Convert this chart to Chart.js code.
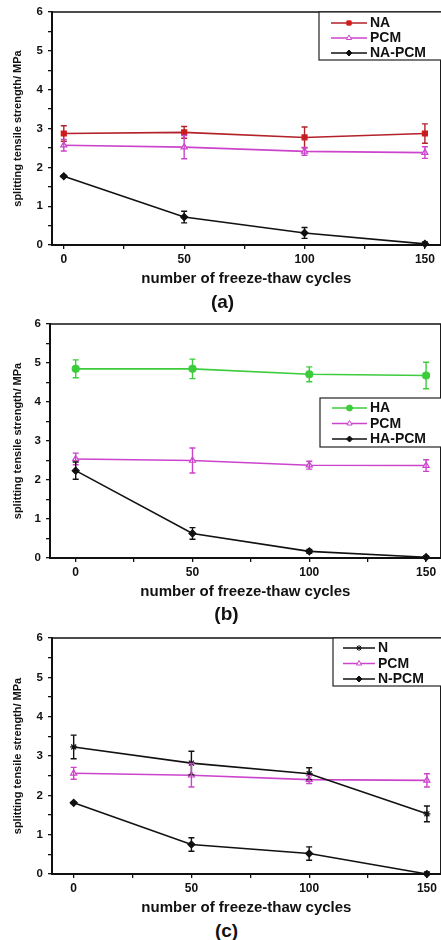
<!DOCTYPE html>
<html>
<head>
<meta charset="utf-8">
<script src="https://cdn.jsdelivr.net/npm/chart.js@4/dist/chart.umd.min.js"></script>
<style>
  html, body { margin: 0; padding: 0; background: #fff; }
  body { width: 441px; height: 940px; position: relative; overflow: hidden; }
  .panel { position: absolute; left: 0; width: 446px; }
  .tag { position: absolute; width: 441px; text-align: center; font: bold 19px 'Liberation Sans', Arial, sans-serif; color: #111; }
</style>
</head>
<body>
<div class="panel" style="top:0;height:290px"><canvas id="chart-a"></canvas></div>
<div class="panel" style="top:300px;height:303px"><canvas id="chart-b"></canvas></div>
<div class="panel" style="top:610px;height:309px"><canvas id="chart-c"></canvas></div>
<div class="tag" style="top:291px;left:2px">(a)</div>
<div class="tag" style="top:603px;left:6px">(b)</div>
<div class="tag" style="top:920px;left:6px">(c)</div>
<script>
const cycles = [0, 50, 100, 150];

// panel (a)
const naValues = [2.87, 2.90, 2.77, 2.87];
const naErrors = [0.20, 0.15, 0.27, 0.25];
const pcmValuesA = [2.57, 2.52, 2.41, 2.38];
const pcmErrorsA = [0.15, 0.30, 0.10, 0.15];
const naPcmValues = [1.77, 0.72, 0.31, 0.03];
const naPcmErrors = [0.02, 0.15, 0.14, 0.05];

// panel (b)
const haValues = [4.85, 4.85, 4.71, 4.68];
const haErrors = [0.23, 0.25, 0.19, 0.34];
const pcmValuesB = [2.54, 2.50, 2.38, 2.37];
const pcmErrorsB = [0.15, 0.32, 0.10, 0.15];
const haPcmValues = [2.24, 0.63, 0.17, 0.02];
const haPcmErrors = [0.22, 0.15, 0.05, 0.03];

// panel (c)
const nValues = [3.23, 2.82, 2.55, 1.53];
const nErrors = [0.30, 0.30, 0.15, 0.20];
const pcmValuesC = [2.56, 2.51, 2.40, 2.38];
const pcmErrorsC = [0.15, 0.30, 0.10, 0.17];
const nPcmValues = [1.81, 0.75, 0.52, 0.00];
const nPcmErrors = [0.02, 0.17, 0.17, 0.05];

const yTicks = [0, 1, 2, 3, 4, 5, 6];

const colors = {
    naLine: '#b3222a',
    naPoint: '#d41a1a',
    pcm: '#cc44cc',
    ha: '#3ccc3c',
    black: '#111111'
};

Chart.defaults.font.family = "'Liberation Sans', Arial, sans-serif";
Chart.defaults.font.weight = 'bold';
Chart.defaults.color = '#111';

const toPoints = vals => vals.map((v, i) => ({ x: cycles[i], y: v }));

function series(label, vals, errs, lineColor, pointColor, style, fill) {
    return {
        label: label,
        data: toPoints(vals),
        errors: errs,
        borderColor: lineColor,
        borderWidth: 1.6,
        pointStyle: style,
        pointRadius: 3.5,
        pointBackgroundColor: fill,
        pointBorderColor: pointColor,
        pointBorderWidth: 1.2,
        tension: 0,
        clip: false
    };
}

// vertical error bars, placed through the y scale
const errorBars = {
    id: 'errorBars',
    afterDatasetsDraw(chart) {
        const ctx = chart.ctx, ys = chart.scales.y;
        chart.data.datasets.forEach((ds, i) => {
            if (!ds.errors) return;
            const meta = chart.getDatasetMeta(i);
            ctx.save();
            ctx.strokeStyle = ds.borderColor;
            ctx.lineWidth = 1.4;
            meta.data.forEach((pt, j) => {
                const e = ds.errors[j];
                if (!e) return;
                const v = ds.data[j].y;
                const top = ys.getPixelForValue(v + e), bot = ys.getPixelForValue(Math.max(v - e, 0));
                ctx.beginPath();
                ctx.moveTo(pt.x, top); ctx.lineTo(pt.x, bot);
                ctx.moveTo(pt.x - 3, top); ctx.lineTo(pt.x + 3, top);
                ctx.moveTo(pt.x - 3, bot); ctx.lineTo(pt.x + 3, bot);
                ctx.stroke();
            });
            ctx.restore();
        });
    }
};

// top and right frame lines
const frame = {
    id: 'frame',
    afterDraw(chart) {
        const a = chart.chartArea, ctx = chart.ctx;
        ctx.save();
        ctx.strokeStyle = '#111';
        ctx.lineWidth = 1.5;
        ctx.beginPath();
        ctx.moveTo(a.left, a.top); ctx.lineTo(a.right, a.top); ctx.lineTo(a.right, a.bottom);
        ctx.stroke();
        ctx.restore();
    }
};

// boxed legend inside the plot
const boxLegend = {
    id: 'boxLegend',
    afterDraw(chart, args, o) {
        const ctx = chart.ctx;
        ctx.save();
        ctx.fillStyle = '#fff';
        ctx.fillRect(o.x, o.y, o.w, o.h);
        ctx.strokeStyle = '#222';
        ctx.lineWidth = 1.2;
        ctx.strokeRect(o.x, o.y, o.w, o.h);
        ctx.font = "bold 14px 'Liberation Sans', Arial, sans-serif";
        ctx.textBaseline = 'middle';
        chart.data.datasets.forEach((ds, i) => {
            const ry = o.y + o.first + i * o.gap;
            ctx.strokeStyle = ds.borderColor;
            ctx.lineWidth = 1.5;
            ctx.beginPath();
            ctx.moveTo(o.x + o.l0, ry); ctx.lineTo(o.x + o.l1, ry);
            ctx.stroke();
            ctx.fillStyle = ds.pointBackgroundColor;
            ctx.strokeStyle = ds.pointBorderColor;
            ctx.lineWidth = 1;
            Chart.helpers.drawPoint(ctx, { pointStyle: ds.pointStyle, radius: 3, borderWidth: 1 }, o.x + (o.l0 + o.l1) / 2, ry);
            ctx.fillStyle = '#111';
            ctx.fillText(ds.label, o.x + o.l1 + 3, ry + 0.5);
        });
        ctx.restore();
    }
};

function makePanel(id, datasets, xMin, xMax, yWidth, padTop, legend) {
    new Chart(document.getElementById(id), {
        type: 'line',
        data: { datasets: datasets },
        plugins: [errorBars, frame, boxLegend],
        options: {
            responsive: true,
            maintainAspectRatio: false,
            animation: false,
            layout: { padding: { top: padTop, left: 0, right: 0, bottom: 0 } },
            plugins: {
                legend: { display: false },
                tooltip: { enabled: false },
                boxLegend: legend
            },
            scales: {
                x: {
                    type: 'linear',
                    min: xMin,
                    max: xMax,
                    afterBuildTicks: s => { s.ticks = [0, 25, 50, 75, 100, 125, 150].map(v => ({ value: v })); },
                    afterFit: s => { s.height = 45; },
                    ticks: { font: { size: 12, weight: 'bold' }, padding: 3, maxRotation: 0, autoSkip: false,
                             callback: v => (v % 50 === 0 ? String(v) : '') },
                    grid: { drawOnChartArea: false, drawTicks: true, tickLength: 4, color: '#111', lineWidth: 1.3 },
                    border: { color: '#111', width: 2 },
                    title: { display: true, text: 'number of freeze-thaw cycles', font: { size: 15, weight: 'bold' }, padding: { top: 0, bottom: 2 } }
                },
                y: {
                    min: 0,
                    max: 6,
                    afterBuildTicks: s => { s.ticks = []; yTicks.forEach(v => { s.ticks.push({ value: v }); if (v < 6) s.ticks.push({ value: v + 0.5 }); }); },
                    afterFit: s => { s.width = yWidth; },
                    ticks: { font: { size: 11.5, weight: 'bold' }, padding: 5, autoSkip: false,
                             callback: v => (Number.isInteger(v) ? String(v) : '') },
                    grid: { drawOnChartArea: false, drawTicks: true, tickLength: 4, color: '#111', lineWidth: 1.3 },
                    border: { color: '#111', width: 2 },
                    title: { display: true, text: 'splitting tensile strength/ MPa', font: { size: 11, weight: 'bold' }, padding: { top: 11, bottom: 0 } }
                }
            }
        }
    });
}

makePanel('chart-a', [
    series('NA', naValues, naErrors, colors.naLine, colors.naPoint, 'rect', colors.naPoint),
    series('PCM', pcmValuesA, pcmErrorsA, colors.pcm, colors.pcm, 'triangle', '#ffffff'),
    series('NA-PCM', naPcmValues, naPcmErrors, colors.black, colors.black, 'rectRot', colors.black)
], -4.9, 156.6, 52, 12, { x: 319, y: 12, w: 140, h: 48, first: 11, gap: 15, l0: 12, l1: 48 });

makePanel('chart-b', [
    series('HA', haValues, haErrors, colors.ha, colors.ha, 'circle', colors.ha),
    series('PCM', pcmValuesB, pcmErrorsB, colors.pcm, colors.pcm, 'triangle', '#ffffff'),
    series('HA-PCM', haPcmValues, haPcmErrors, colors.black, colors.black, 'rectRot', colors.black)
], -11, 156.3, 50, 24, { x: 320, y: 98, w: 140, h: 49, first: 10, gap: 15.5, l0: 12, l1: 47 });

makePanel('chart-c', [
    series('N', nValues, nErrors, colors.black, colors.black, 'star', colors.black),
    series('PCM', pcmValuesC, pcmErrorsC, colors.pcm, colors.pcm, 'triangle', '#ffffff'),
    series('N-PCM', nPcmValues, nPcmErrors, colors.black, colors.black, 'rectRot', colors.black)
], -9.2, 155.9, 52, 28, { x: 333, y: 28, w: 130, h: 48, first: 10, gap: 15.5, l0: 10, l1: 42 });
</script>
</body>
</html>
